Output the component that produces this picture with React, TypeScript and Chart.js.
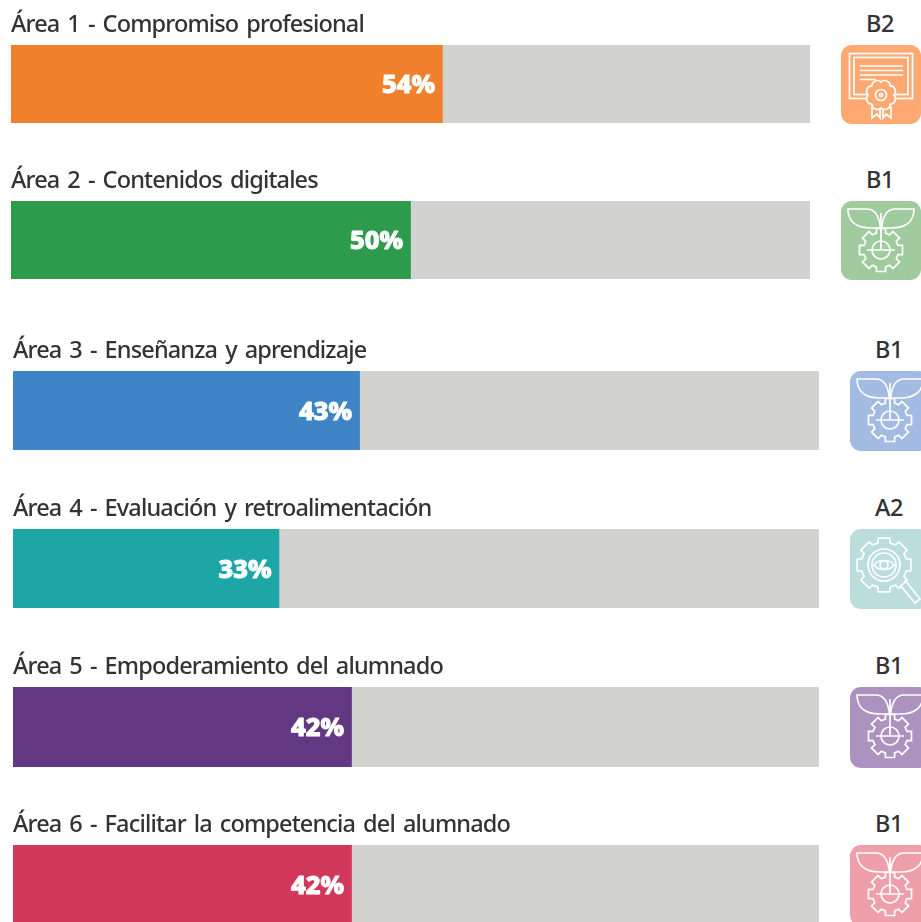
import React, { useEffect, useRef } from "react";
import { Chart, registerables } from "chart.js";

Chart.register(...registerables);

const areaTitles = [
  "Área 1 - Compromiso profesional",
  "Área 2 - Contenidos digitales",
  "Área 3 - Enseñanza y aprendizaje",
  "Área 4 - Evaluación y retroalimentación",
  "Área 5 - Empoderamiento del alumnado",
  "Área 6 - Facilitar la competencia del alumnado",
];
const scores = [54, 50, 43, 33, 42, 42];
const levels = ["B2", "B1", "B1", "A2", "B1", "B1"];
const barColors = ["#F0802C", "#2C9B4B", "#3F84C6", "#1CA6A6", "#623882", "#D2375C"];
const iconColors = ["#FDA971", "#A0CB9F", "#A3BBE3", "#BBDEDC", "#AB92BF", "#EE9FA9"];
const iconKinds = ["cert", "plant", "plant", "eye", "plant", "plant"];

const rows = [
  { left: 11, top: 45, w: 799, h: 78, iconX: 841 },
  { left: 11, top: 201, w: 799, h: 78, iconX: 841 },
  { left: 13, top: 371, w: 806, h: 79, iconX: 850 },
  { left: 13, top: 529, w: 806, h: 79, iconX: 850 },
  { left: 13, top: 687, w: 806, h: 80, iconX: 850 },
  { left: 13, top: 845, w: 806, h: 80, iconX: 850 },
];

const FONT = '"Noto Sans", sans-serif';
const HEAD = 44;

const tightText = {
  id: "tightText",
  beforeDraw(chart: any) {
    chart.ctx.letterSpacing = "-0.85px";
    chart.ctx.wordSpacing = "2.7px";
  },
};

const valueLabels = {
  id: "valueLabels",
  afterDatasetsDraw(chart: any) {
    const el = chart.getDatasetMeta(0).data[0];
    const { ctx } = chart;
    ctx.save();
    ctx.letterSpacing = "0px";
    ctx.wordSpacing = "0px";
    ctx.font = `800 25.5px ${FONT}`;
    ctx.fillStyle = "#ffffff";
    ctx.strokeStyle = "#ffffff";
    ctx.lineWidth = 1;
    ctx.lineJoin = "round";
    ctx.textAlign = "right";
    ctx.textBaseline = "middle";
    const label = `${chart.data.datasets[0].data[0]}%`;
    ctx.strokeText(label, el.x - 7.5, el.y + 2);
    ctx.fillText(label, el.x - 7.5, el.y + 2);
    ctx.restore();
  },
};

function Bar({ index }: { index: number }) {
  const ref = useRef<HTMLCanvasElement>(null);
  const r = rows[index];
  useEffect(() => {
    const chart = new Chart(ref.current as HTMLCanvasElement, {
      type: "bar",
      data: {
        labels: [areaTitles[index]],
        datasets: [
          { data: [scores[index]], backgroundColor: barColors[index], barPercentage: 1, categoryPercentage: 1 },
          { data: [100 - scores[index]], backgroundColor: "#D2D2D0", barPercentage: 1, categoryPercentage: 1 },
        ],
      },
      options: {
        indexAxis: "y",
        animation: false,
        responsive: false,
        layout: { padding: 0 },
        scales: {
          x: { display: false, stacked: true, min: 0, max: 100 },
          y: { display: false, stacked: true },
        },
        plugins: {
          legend: { display: false },
          tooltip: { enabled: false },
          title: {
            display: true,
            text: areaTitles[index],
            align: "start",
            color: "#333333",
            font: { family: FONT, size: 23.5, weight: "500", lineHeight: 1 },
            padding: { top: 13, bottom: 7.5 },
          },
        },
      },
      plugins: [tightText, valueLabels],
    } as any);
    return () => chart.destroy();
  }, []);
  return (
    <canvas
      ref={ref}
      width={r.w}
      height={r.h + HEAD}
      style={{ position: "absolute", left: r.left, top: r.top - HEAD, width: r.w, height: r.h + HEAD }}
    />
  );
}

function gearPath(cx: number, cy: number, outer: number, inner: number, teeth: number) {
  const pts: string[] = [];
  const step = (Math.PI * 2) / teeth;
  for (let i = 0; i < teeth; i++) {
    const a = i * step - Math.PI / 2;
    const seq: [number, number][] = [
      [a - step * 0.27, outer],
      [a + step * 0.27, outer],
      [a + step * 0.34, inner],
      [a + step * 0.66, inner],
    ];
    for (const [t, rad] of seq) {
      pts.push(`${(cx + rad * Math.cos(t)).toFixed(1)} ${(cy + rad * Math.sin(t)).toFixed(1)}`);
    }
  }
  return `M${pts.join("L")}Z`;
}

function flowerPath(cx: number, cy: number, rad: number, n: number) {
  let d = "";
  const step = (Math.PI * 2) / n;
  for (let i = 0; i <= n; i++) {
    const a = i * step;
    const x = cx + rad * Math.cos(a);
    const y = cy + rad * Math.sin(a);
    d += i === 0 ? `M${x.toFixed(1)} ${y.toFixed(1)}` : `A${(rad * 0.42).toFixed(1)} ${(rad * 0.42).toFixed(1)} 0 0 1 ${x.toFixed(1)} ${y.toFixed(1)}`;
  }
  return `${d}Z`;
}

function Plant() {
  return (
    <g>
      <path d="M7 8H26C33 8 38 14 39.5 27H30C15 27 7 20 7 8Z" />
      <path d="M73 8H54C47 8 42 14 40.5 27H50C65 27 73 20 73 8Z" />
      <path d="M40 12V49M26 49H54" />
      <circle cx="40" cy="49" r="9" />
      <path d={gearPath(40, 49, 22, 17.5, 8)} />
    </g>
  );
}

function Cert({ fill }: { fill: string }) {
  return (
    <g>
      <rect x="8.5" y="8.5" width="63" height="45" />
      <rect x="13" y="12.5" width="54" height="37" />
      <path d="M19 21H62M19 25.5H62M19 30H62M19 34.5H35" />
      <path d={flowerPath(40, 50, 13, 8)} fill={fill} />
      <circle cx="40" cy="50" r="5.5" />
      <circle cx="40" cy="50" r="1.5" />
      <path d="M31 61V73L36 69L39 73V64M42 64V73L45 69L50 73V61" />
    </g>
  );
}

function Eye() {
  return (
    <g>
      <path d={gearPath(34, 36, 27.5, 23, 8)} />
      <circle cx="34" cy="36" r="16" />
      <circle cx="34" cy="36" r="12" />
      <path d="M24 36C28 30 40 30 44 36C40 42 28 42 24 36Z" />
      <circle cx="34" cy="36" r="4" />
      <path d="M55 51L70 70L65 74L50 56" />
    </g>
  );
}

function Icon({ index }: { index: number }) {
  const r = rows[index];
  const kind = iconKinds[index];
  return (
    <svg
      width={80}
      height={r.h + 1}
      viewBox={`0 0 80 ${r.h + 1}`}
      style={{ position: "absolute", left: r.iconX, top: r.top, display: "block" }}
    >
      <rect x="0" y="0" width="80" height={r.h + 1} rx="11" fill={iconColors[index]} />
      <g fill="none" stroke="#ffffff" strokeWidth="1.7">
        {kind === "cert" && <Cert fill={iconColors[index]} />}
        {kind === "plant" && <Plant />}
        {kind === "eye" && <Eye />}
      </g>
    </svg>
  );
}

export default function App() {
  return (
    <div style={{ position: "fixed", left: 0, top: 0, width: 921, height: 922, overflow: "hidden", background: "#fff" }}>
      {rows.map((r, i) => (
        <React.Fragment key={i}>
          <Bar index={i} />
          <Icon index={i} />
          <div
            style={{
              position: "absolute",
              left: r.iconX,
              width: 78,
              top: r.top - 37,
              height: 30,
              textAlign: "center",
              font: `500 23.5px/30px ${FONT}`,
              letterSpacing: "-0.5px",
              color: "#333333",
            }}
          >
            {levels[i]}
          </div>
        </React.Fragment>
      ))}
    </div>
  );
}
